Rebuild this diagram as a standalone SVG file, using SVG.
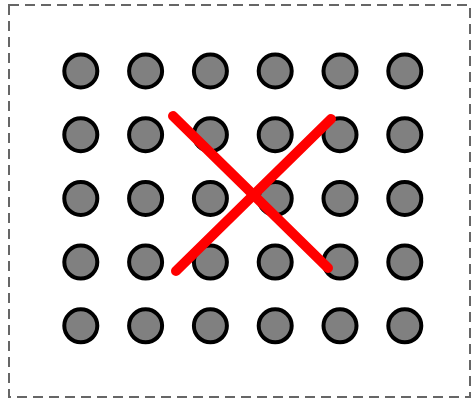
<svg xmlns="http://www.w3.org/2000/svg" width="471" height="399" viewBox="0 0 471 399">
<style>
.dot{fill:#808080;stroke:#000;stroke-width:4}
.frame{fill:none;stroke:#666;stroke-width:2;stroke-dasharray:10 6}
.x{stroke:#ff0000;stroke-width:10;stroke-linecap:round;fill:none}
</style>
<rect width="471" height="399" fill="#fff"/>
<rect class="frame" x="9" y="5" width="461" height="392"/>
<g id="dots">
<circle class="dot" cx="80.8" cy="71" r="16.5"/><circle class="dot" cx="145.6" cy="71" r="16.5"/><circle class="dot" cx="210.4" cy="71" r="16.5"/><circle class="dot" cx="275.2" cy="71" r="16.5"/><circle class="dot" cx="340" cy="71" r="16.5"/><circle class="dot" cx="404.8" cy="71" r="16.5"/>
<circle class="dot" cx="80.8" cy="134.7" r="16.5"/><circle class="dot" cx="145.6" cy="134.7" r="16.5"/><circle class="dot" cx="210.4" cy="134.7" r="16.5"/><circle class="dot" cx="275.2" cy="134.7" r="16.5"/><circle class="dot" cx="340" cy="134.7" r="16.5"/><circle class="dot" cx="404.8" cy="134.7" r="16.5"/>
<circle class="dot" cx="80.8" cy="198.4" r="16.5"/><circle class="dot" cx="145.6" cy="198.4" r="16.5"/><circle class="dot" cx="210.4" cy="198.4" r="16.5"/><circle class="dot" cx="275.2" cy="198.4" r="16.5"/><circle class="dot" cx="340" cy="198.4" r="16.5"/><circle class="dot" cx="404.8" cy="198.4" r="16.5"/>
<circle class="dot" cx="80.8" cy="262.1" r="16.5"/><circle class="dot" cx="145.6" cy="262.1" r="16.5"/><circle class="dot" cx="210.4" cy="262.1" r="16.5"/><circle class="dot" cx="275.2" cy="262.1" r="16.5"/><circle class="dot" cx="340" cy="262.1" r="16.5"/><circle class="dot" cx="404.8" cy="262.1" r="16.5"/>
<circle class="dot" cx="80.8" cy="325.8" r="16.5"/><circle class="dot" cx="145.6" cy="325.8" r="16.5"/><circle class="dot" cx="210.4" cy="325.8" r="16.5"/><circle class="dot" cx="275.2" cy="325.8" r="16.5"/><circle class="dot" cx="340" cy="325.8" r="16.5"/><circle class="dot" cx="404.8" cy="325.8" r="16.5"/>
</g>
<g id="cross">
<line class="x" x1="173" y1="116" x2="328" y2="268"/>
<line class="x" x1="176" y1="271" x2="331" y2="119"/>
</g>
</svg>
